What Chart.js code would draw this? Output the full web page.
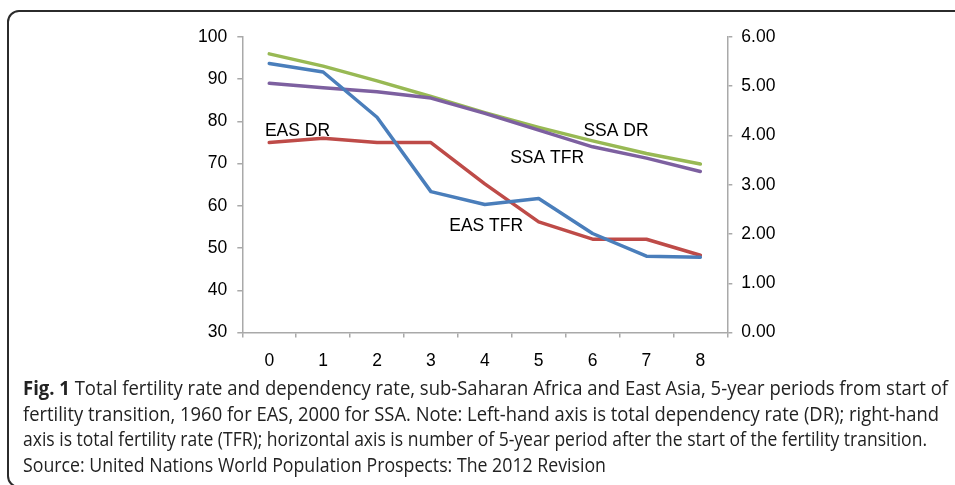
<!DOCTYPE html>
<html>
<head>
<meta charset="utf-8">
<script src="https://cdn.jsdelivr.net/npm/chart.js@4.4.0/dist/chart.umd.min.js"></script>
<style>
  html, body { margin: 0; padding: 0; background: #fff; overflow: hidden; }
  body { width: 955px; height: 485px; position: relative; }
  #frame {
    position: absolute; left: 7px; top: 10px; width: 1000px; height: 474px;
    border: 2px solid #2b2b2b; border-radius: 12px;
  }
  #myChart { position: absolute; left: 0; top: 0; }
  #caption {
    position: absolute; left: 23px; top: 375px;
    font-family: 'Open Sans', sans-serif; font-size: 20px; line-height: 25.5px; color: #222;
  }
  #caption div { white-space: nowrap; transform-origin: left center; width: max-content; }
</style>
</head>
<body>
<div id="frame"></div>
<canvas id="myChart" width="955" height="385"></canvas>
<div id="caption">
  <div><b>Fig. 1</b> Total fertility rate and dependency rate, sub-Saharan Africa and East Asia, 5-year periods from start of</div>
  <div>fertility transition, 1960 for EAS, 2000 for SSA. Note: Left-hand axis is total dependency rate (DR); right-hand</div>
  <div>axis is total fertility rate (TFR); horizontal axis is number of 5-year period after the start of the fertility transition.</div>
  <div>Source: United Nations World Population Prospects: The 2012 Revision</div>
</div>
<script>
// 5-year periods since start of transition
const periods = ['0', '1', '2', '3', '4', '5', '6', '7', '8'];

// dependency rates (left axis)
const easDR = [75, 76, 75, 75, 65.2, 56.2, 52.1, 52.1, 48.3];
const ssaDR = [96.0, 93.1, 89.6, 85.9, 82.1, 78.6, 75.4, 72.4, 69.9];

// fertility rates (right axis)
const easTFR = [5.46, 5.29, 4.37, 2.86, 2.60, 2.72, 2.01, 1.55, 1.53];
const ssaTFR = [5.06, 4.97, 4.89, 4.76, 4.45, 4.11, 3.77, 3.54, 3.27];

// text labels placed in the plot (x = period, y = left axis value)
const seriesLabels = [
  { text: 'EAS DR', x: -0.08, y: 76.5 },
  { text: 'SSA DR', x: 5.83, y: 76.5 },
  { text: 'SSA TFR', x: 4.47, y: 70.1 },
  { text: 'EAS TFR', x: 3.34, y: 54.1 }
];

const axisGrey = '#a9a9a9';
const tickFont = { family: "'Liberation Sans', Arial, sans-serif", size: 17.5 };

const lineStyle = {
  borderWidth: 3.5,
  pointRadius: 0,
  tension: 0,
  fill: false,
  borderCapStyle: 'round',
  borderJoinStyle: 'round'
};

const labelPlugin = {
  id: 'seriesLabels',
  afterDatasetsDraw(chart) {
    const ctx = chart.ctx;
    const x = chart.scales.x, y = chart.scales.y;
    ctx.save();
    ctx.font = '17.5px "Liberation Sans", Arial, sans-serif';
    ctx.fillStyle = '#000';
    ctx.textAlign = 'left';
    ctx.textBaseline = 'alphabetic';
    seriesLabels.forEach(l => {
      ctx.fillText(l.text, x.getPixelForValue(l.x), y.getPixelForValue(l.y));
    });
    ctx.restore();
  }
};

const data = {
  labels: periods,
  datasets: [
    { label: 'EAS TFR', data: easTFR, borderColor: '#4a7ebb', yAxisID: 'y1', ...lineStyle },
    { label: 'SSA TFR', data: ssaTFR, borderColor: '#7d60a0', yAxisID: 'y1', ...lineStyle },
    { label: 'SSA DR', data: ssaDR, borderColor: '#98b954', yAxisID: 'y', ...lineStyle },
    { label: 'EAS DR', data: easDR, borderColor: '#be4b48', yAxisID: 'y', ...lineStyle }
  ]
};

const config = {
  type: 'line',
  data: data,
  options: {
    responsive: false,
    animation: false,
    devicePixelRatio: 1,
    layout: { padding: { top: 37, left: 0, right: 0, bottom: 0 } },
    plugins: {
      legend: { display: false },
      tooltip: { enabled: false }
    },
    scales: {
      x: {
        type: 'category',
        offset: true,
        grid: { offset: true, drawOnChartArea: false, drawTicks: true, tickLength: 5, color: axisGrey, lineWidth: 1.5 },
        border: { display: true, color: axisGrey, width: 1.5 },
        ticks: { color: '#000', font: tickFont, padding: 13, maxRotation: 0 },
        afterFit(scale) { scale.height = 52.5; }
      },
      y: {
        position: 'left',
        min: 30,
        max: 100,
        ticks: { stepSize: 10, color: '#000', font: tickFont, padding: 10 },
        grid: { drawOnChartArea: false, drawTicks: true, tickLength: 5, color: axisGrey, lineWidth: 1.5 },
        border: { display: true, color: axisGrey, width: 1.5 },
        afterFit(scale) { scale.width = 242.3; }
      },
      y1: {
        position: 'right',
        min: 0,
        max: 6,
        ticks: { stepSize: 1, color: '#000', font: tickFont, padding: 9, callback: v => v.toFixed(2) },
        grid: { drawOnChartArea: false, drawTicks: true, tickLength: 5, color: axisGrey, lineWidth: 1.5 },
        border: { display: true, color: axisGrey, width: 1.5 },
        afterFit(scale) { scale.width = 227.7; }
      }
    }
  },
  plugins: [labelPlugin]
};

const myChart = new Chart(document.getElementById('myChart'), config);

// squeeze each caption line to the width it has in the figure
const capWidths = [925, 916, 904, 583];
document.querySelectorAll('#caption div').forEach((d, i) => {
  const k = capWidths[i] / d.getBoundingClientRect().width;
  d.style.transform = 'scaleX(' + k + ')';
});
</script>
</body>
</html>
